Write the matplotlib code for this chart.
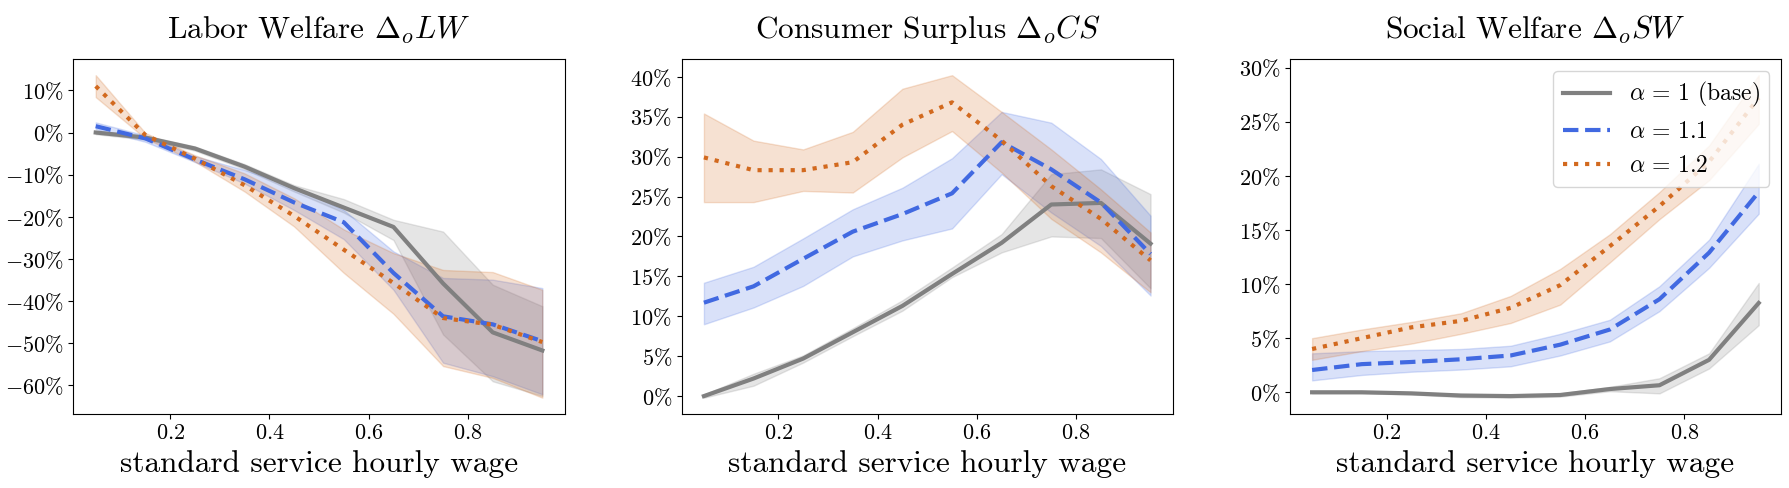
"""Welfare changes vs standard service hourly wage"""

import matplotlib
matplotlib.use('Agg')
import matplotlib.pyplot as plt
from matplotlib.ticker import FuncFormatter, MultipleLocator

plt.rcParams['font.family'] = 'serif'
plt.rcParams['font.serif'] = ['cmr10']
plt.rcParams['mathtext.fontset'] = 'cm'
plt.rcParams['axes.formatter.use_mathtext'] = True

# wage grid
wage = [0.05, 0.15, 0.25, 0.35, 0.45, 0.55, 0.65, 0.75, 0.85, 0.95]

# Labor welfare (%)
lw_base = [0.0, -1.2, -3.8, -8.1, -13.2, -17.8, -22.4, -35.8, -47.4, -51.7]
lw_base_lo = [-0.4, -1.7, -4.3, -8.7, -14.0, -19.0, -25.5, -47.9, -59.0, -62.5]
lw_base_hi = [0.4, -0.7, -3.3, -7.5, -12.5, -15.8, -20.7, -23.5, -36.1, -41.2]
lw_a11 = [1.5, -1.4, -6.4, -11.1, -16.6, -21.3, -33.3, -43.6, -45.5, -49.5]
lw_a11_lo = [0.8, -2.2, -7.0, -12.1, -18.4, -25.3, -37.3, -54.6, -57.8, -62.1]
lw_a11_hi = [2.4, -0.7, -5.6, -8.9, -12.8, -18.4, -28.2, -34.5, -34.9, -36.9]
lw_a12 = [11.0, -0.6, -6.2, -12.5, -19.8, -27.8, -35.7, -44.0, -45.6, -49.7]
lw_a12_lo = [8.4, -1.4, -6.9, -14.0, -22.3, -33.3, -43.0, -55.4, -58.2, -62.9]
lw_a12_hi = [13.6, -0.1, -5.4, -9.7, -15.6, -23.0, -28.6, -32.6, -33.1, -37.3]

# Consumer surplus (%)
cs_base = [0.0, 2.2, 4.7, 8.0, 11.3, 15.3, 19.2, 24.0, 24.2, 19.1]
cs_base_lo = [-0.2, 1.3, 4.2, 7.5, 10.7, 14.9, 18.0, 20.0, 19.8, 13.5]
cs_base_hi = [0.2, 2.8, 5.1, 8.5, 12.0, 16.1, 20.3, 27.8, 28.4, 25.3]
cs_a11 = [11.7, 13.75, 17.2, 20.6, 22.8, 25.4, 31.8, 28.4, 24.25, 17.8]
cs_a11_lo = [9.0, 11.1, 13.8, 17.5, 19.5, 21.0, 27.8, 23.0, 18.8, 12.6]
cs_a11_hi = [14.2, 16.2, 19.75, 23.4, 26.1, 29.8, 35.6, 34.25, 29.7, 22.6]
cs_a12 = [29.9, 28.3, 28.3, 29.3, 34.0, 36.8, 32.0, 26.3, 22.2, 17.0]
cs_a12_lo = [24.3, 24.3, 25.7, 25.5, 29.9, 33.2, 28.0, 22.2, 18.0, 13.0]
cs_a12_hi = [35.4, 32.0, 30.9, 33.1, 38.5, 40.2, 35.6, 30.9, 25.9, 20.5]

# Social welfare (%)
sw_base = [0.0, 0.0, -0.1, -0.3, -0.35, -0.25, 0.3, 0.65, 3.0, 8.25]
sw_base_lo = [-0.1, -0.1, -0.2, -0.45, -0.5, -0.4, 0.1, -0.1, 2.2, 6.2]
sw_base_hi = [0.1, 0.1, 0.0, -0.15, -0.2, -0.1, 0.5, 1.3, 3.6, 10.1]
sw_a11 = [2.06, 2.6, 2.8, 3.05, 3.4, 4.4, 5.8, 8.6, 12.9, 18.5]
sw_a11_lo = [1.1, 1.6, 1.9, 2.1, 2.4, 3.4, 4.7, 7.5, 11.5, 16.5]
sw_a11_hi = [3.6, 3.8, 3.9, 4.0, 4.3, 5.4, 6.7, 9.8, 14.1, 21.1]
sw_a12 = [4.0, 5.0, 6.0, 6.6, 7.8, 9.9, 13.5, 17.2, 21.3, 27.2]
sw_a12_lo = [3.0, 3.8, 4.5, 5.4, 6.4, 8.1, 12.0, 16.0, 19.6, 24.8]
sw_a12_hi = [5.0, 5.8, 6.5, 7.3, 8.9, 11.4, 14.6, 18.5, 22.8, 29.3]

titles = [r'Labor Welfare $\Delta_o LW$',
          r'Consumer Surplus $\Delta_o CS$',
          r'Social Welfare $\Delta_o SW$']
labels = [r'$\alpha\,=\,1$ (base)', r'$\alpha\,=\,1.1$', r'$\alpha\,=\,1.2$']
colors = ['gray', 'royalblue', 'chocolate']
styles = ['-', '--', ':']
ytick_steps = [10, 5, 5]

panels = [
    [(lw_base, lw_base_lo, lw_base_hi), (lw_a11, lw_a11_lo, lw_a11_hi), (lw_a12, lw_a12_lo, lw_a12_hi)],
    [(cs_base, cs_base_lo, cs_base_hi), (cs_a11, cs_a11_lo, cs_a11_hi), (cs_a12, cs_a12_lo, cs_a12_hi)],
    [(sw_base, sw_base_lo, sw_base_hi), (sw_a11, sw_a11_lo, sw_a11_hi), (sw_a12, sw_a12_lo, sw_a12_hi)],
]

fig, axes = plt.subplots(1, 3, figsize=(17.9, 4.88), dpi=100)
fig.subplots_adjust(left=0.041, right=0.995, top=0.879, bottom=0.152, wspace=0.238)

pct = FuncFormatter(lambda v, pos: r'$%g\%%$' % v)

for ax, title, series, step in zip(axes, titles, panels, ytick_steps):
    for (mean, lo, hi), lab, col, ls in zip(series, labels, colors, styles):
        ax.fill_between(wage, lo, hi, color=col, alpha=0.2, linewidth=1)
        ax.plot(wage, mean, ls, color=col, linewidth=3, label=lab)
    ax.set_title(title, fontsize=22.5, pad=15)
    ax.set_xlabel('standard service hourly wage', fontsize=22.5, labelpad=5)
    ax.xaxis.set_major_locator(MultipleLocator(0.2))
    ax.xaxis.set_major_formatter(FuncFormatter(lambda v, pos: r'$%.1f$' % v))
    ax.yaxis.set_major_locator(MultipleLocator(step))
    ax.yaxis.set_major_formatter(pct)
    ax.tick_params(labelsize=16)

axes[2].legend(loc='upper right', fontsize=17)

plt.savefig('out.png', dpi=100)
plt.close()
